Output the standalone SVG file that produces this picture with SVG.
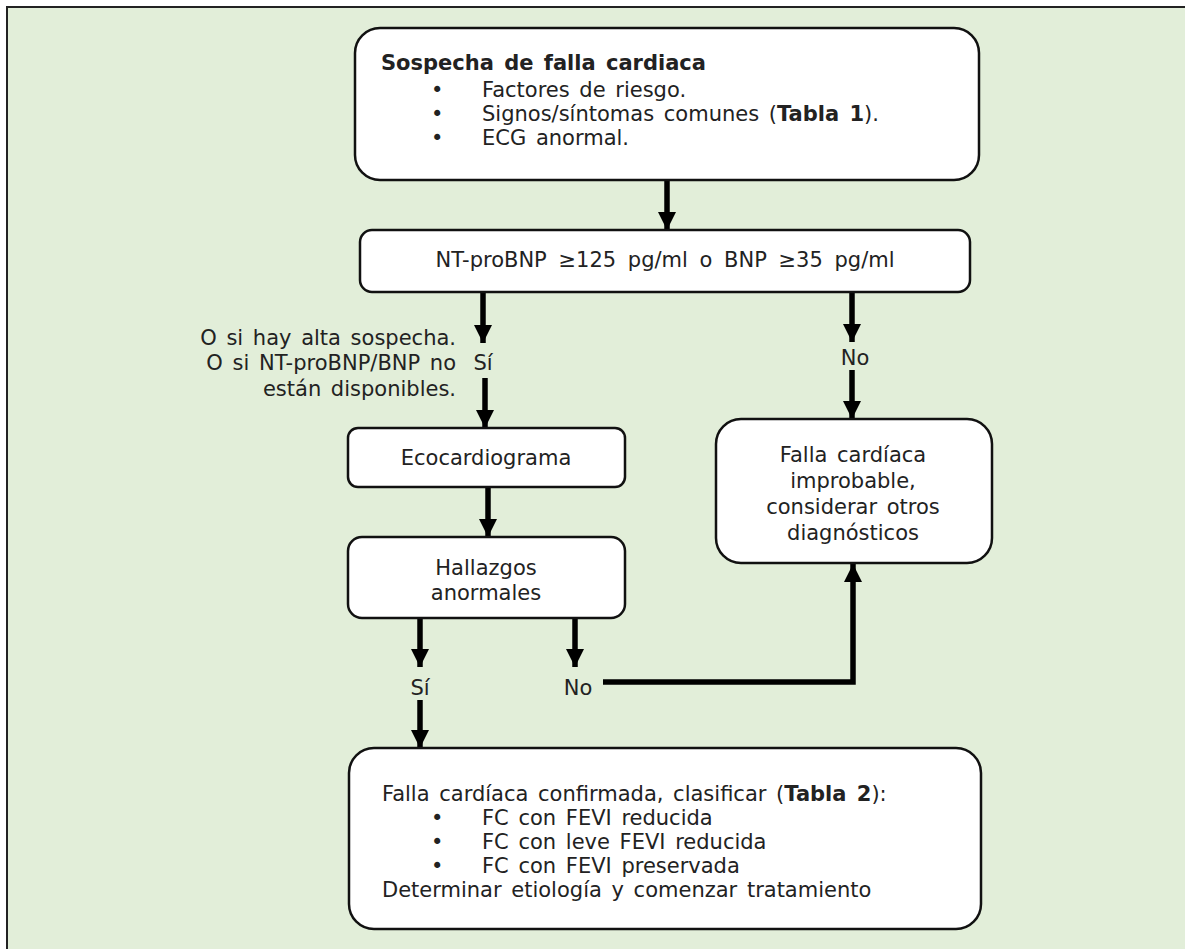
<svg xmlns="http://www.w3.org/2000/svg" width="1185" height="949" viewBox="0 0 1185 949">
<style>
text{font-family:"DejaVu Sans",Verdana,sans-serif;font-size:21px;fill:#222;word-spacing:3px}
.b{font-weight:bold}
.c{text-anchor:middle}
.e{text-anchor:end}
.box{fill:#fff;stroke:#111;stroke-width:2.5}
.ln{fill:none;stroke:#000;stroke-width:5.5}
</style>
<defs>
<marker id="ah" markerUnits="userSpaceOnUse" markerWidth="18" markerHeight="18" viewBox="0 0 18 18" refX="18" refY="9" orient="auto">
<path d="M0,0 L18,9 L0,18 Z" fill="#000"/>
</marker>
</defs>
<rect x="0" y="0" width="1185" height="949" fill="#fff"/>
<rect x="7" y="7" width="1200" height="1000" fill="#E2EED9" stroke="#222" stroke-width="2"/>

<g id="connectors">
<line class="ln" x1="667" y1="180" x2="667" y2="230" marker-end="url(#ah)"/>
<line class="ln" x1="483" y1="293" x2="483" y2="343" marker-end="url(#ah)"/>
<line class="ln" x1="485" y1="378" x2="485" y2="428" marker-end="url(#ah)"/>
<line class="ln" x1="488" y1="487" x2="488" y2="537" marker-end="url(#ah)"/>
<line class="ln" x1="420" y1="618" x2="420" y2="667" marker-end="url(#ah)"/>
<line class="ln" x1="420" y1="700" x2="420" y2="748" marker-end="url(#ah)"/>
<line class="ln" x1="575" y1="618" x2="575" y2="667" marker-end="url(#ah)"/>
<polyline class="ln" points="603,682 853,682 853,564" marker-end="url(#ah)"/>
<line class="ln" x1="852" y1="292" x2="852" y2="342" marker-end="url(#ah)"/>
<line class="ln" x1="852" y1="370" x2="852" y2="419" marker-end="url(#ah)"/>
<text class="e" x="456" y="345">O si hay alta sospecha.</text>
<text class="e" x="456" y="370">O si NT-proBNP/BNP no</text>
<text class="e" x="456" y="396">están disponibles.</text>
<text class="c" x="483" y="370">Sí</text>
<text class="c" x="855" y="365">No</text>
<text class="c" x="420" y="695">Sí</text>
<text class="c" x="578" y="695">No</text>
</g>

<g id="n1">
<rect class="box" x="355" y="28" width="624" height="152" rx="25"/>
<text class="b" x="381" y="70">Sospecha de falla cardiaca</text>
<text x="431" y="97">•</text><text x="482" y="97">Factores de riesgo.</text>
<text x="431" y="121">•</text><text x="482" y="121">Signos/síntomas comunes (<tspan class="b">Tabla 1</tspan>).</text>
<text x="431" y="145">•</text><text x="482" y="145">ECG anormal.</text>
</g>

<g id="n2">
<rect class="box" x="360" y="230" width="610" height="62" rx="12"/>
<text class="c" x="665" y="267" style="word-spacing:5px">NT-proBNP ≥125 pg/ml o BNP ≥35 pg/ml</text>
</g>

<g id="n3">
<rect class="box" x="348" y="428" width="277" height="59" rx="10"/>
<text class="c" x="486" y="465">Ecocardiograma</text>
</g>

<g id="n4">
<rect class="box" x="348" y="537" width="277" height="81" rx="14"/>
<text class="c" x="486" y="575">Hallazgos</text>
<text class="c" x="486" y="600">anormales</text>
</g>

<g id="n5">
<rect class="box" x="716" y="419" width="276" height="144" rx="25"/>
<text class="c" x="853" y="462">Falla cardíaca</text>
<text class="c" x="853" y="488">improbable,</text>
<text class="c" x="853" y="514">considerar otros</text>
<text class="c" x="853" y="540">diagnósticos</text>
</g>

<g id="n6">
<rect class="box" x="349" y="748" width="632" height="181" rx="25"/>
<text x="382" y="801">Falla cardíaca confirmada, clasificar (<tspan class="b">Tabla 2</tspan>):</text>
<text x="431" y="825">•</text><text x="482" y="825">FC con FEVI reducida</text>
<text x="431" y="849">•</text><text x="482" y="849">FC con leve FEVI reducida</text>
<text x="431" y="873">•</text><text x="482" y="873">FC con FEVI preservada</text>
<text x="382" y="897">Determinar etiología y comenzar tratamiento</text>
</g>
</svg>
